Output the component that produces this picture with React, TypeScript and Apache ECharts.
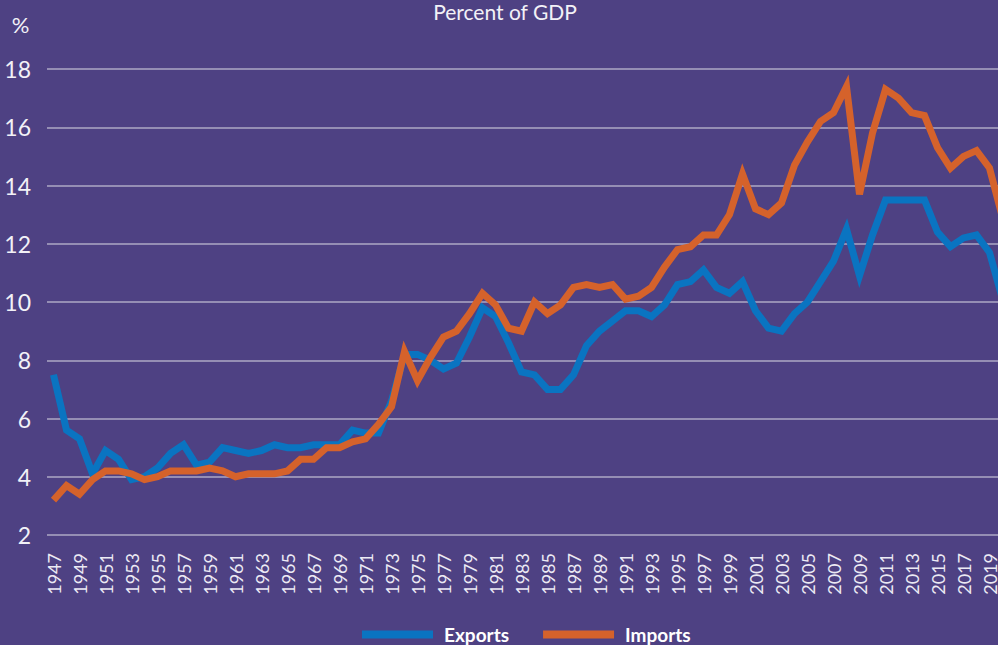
import React, { useEffect, useRef } from "react";
import * as echarts from "echarts";

const years: string[] = [];
for (let y = 1947; y <= 2020; y++) years.push(String(y));

const exportsPct = [
  7.5, 5.6, 5.3, 4.1, 4.9, 4.6, 3.9, 4.0, 4.3, 4.8,
  5.1, 4.4, 4.5, 5.0, 4.9, 4.8, 4.9, 5.1, 5.0, 5.0,
  5.1, 5.1, 5.1, 5.6, 5.5, 5.5, 6.6, 8.2, 8.2, 8.0,
  7.7, 7.9, 8.8, 9.8, 9.5, 8.6, 7.6, 7.5, 7.0, 7.0,
  7.5, 8.5, 9.0, 9.35, 9.7, 9.7, 9.5, 9.9, 10.6, 10.7,
  11.1, 10.5, 10.3, 10.7, 9.7, 9.1, 9.0, 9.6, 10.0, 10.7,
  11.4, 12.5, 10.9, 12.3, 13.5, 13.5, 13.5, 13.5, 12.4, 11.9,
  12.2, 12.3, 11.7, 10.1,
];

const importsPct = [
  3.2, 3.7, 3.4, 3.9, 4.2, 4.2, 4.1, 3.9, 4.0, 4.2,
  4.2, 4.2, 4.3, 4.2, 4.0, 4.1, 4.1, 4.1, 4.2, 4.6,
  4.6, 5.0, 5.0, 5.2, 5.3, 5.8, 6.4, 8.3, 7.3, 8.1,
  8.8, 9.0, 9.6, 10.3, 9.9, 9.1, 9.0, 10.0, 9.6, 9.9,
  10.5, 10.6, 10.5, 10.6, 10.1, 10.2, 10.5, 11.2, 11.8, 11.9,
  12.3, 12.3, 13.0, 14.4, 13.2, 13.0, 13.4, 14.7, 15.5, 16.2,
  16.5, 17.4, 13.7, 15.8, 17.3, 17.0, 16.5, 16.4, 15.3, 14.6,
  15.0, 15.2, 14.6, 12.9,
];

const titleText = "Percent of GDP";
const unitText = "%";
const BG = "#4E4183";
const FONT = "Lato, 'Open Sans', sans-serif";

export default function App() {
  const ref = useRef<HTMLDivElement>(null);
  useEffect(() => {
    if (!ref.current) return;
    const chart = echarts.init(ref.current, undefined, { renderer: "svg" });
    chart.setOption({
      animation: false,
      backgroundColor: BG,
      textStyle: { fontFamily: FONT },
      grid: { left: 47, right: 0, top: 69, bottom: 110, containLabel: false },
      graphic: [
        {
          type: "text",
          x: 505,
          y: 11,
          style: {
            text: titleText,
            fill: "#F2F1F7",
            font: "21px " + FONT,
            textAlign: "center",
            textVerticalAlign: "middle",
          },
        },
        {
          type: "text",
          x: 20.5,
          y: 24,
          style: {
            text: unitText,
            fill: "#F2F1F7",
            font: "22px " + FONT,
            textAlign: "center",
            textVerticalAlign: "middle",
          },
        },
      ],
      legend: {
        left: 357,
        top: 620,
        itemWidth: 71,
        itemHeight: 8,
        itemGap: 34,
        icon: "rect",
        data: ["Exports", "Imports"],
        textStyle: {
          color: "#FFFFFF",
          fontSize: 19,
          fontWeight: "bold",
          fontFamily: FONT,
          padding: [0, 0, 0, 6],
        },
      },
      xAxis: {
        type: "category",
        data: years,
        boundaryGap: true,
        axisLine: { show: false },
        axisTick: { show: false },
        axisLabel: {
          interval: 1,
          rotate: 90,
          margin: 18,
          color: "#ECEAF4",
          fontSize: 18,
          fontFamily: FONT,
        },
        splitLine: { show: false },
      },
      yAxis: {
        type: "value",
        min: 2,
        max: 18,
        interval: 2,
        axisLine: { show: false },
        axisTick: { show: false },
        axisLabel: {
          margin: 16,
          color: "#F2F1F7",
          fontSize: 23,
          fontFamily: FONT,
        },
        splitLine: { lineStyle: { color: "rgba(205,203,220,0.75)", width: 1.5 } },
      },
      series: [
        {
          name: "Exports",
          type: "line",
          data: exportsPct,
          symbol: "none",
          color: "#0A74C1",
          lineStyle: { width: 7, color: "#0A74C1", join: "miter" },
        },
        {
          name: "Imports",
          type: "line",
          data: importsPct,
          symbol: "none",
          color: "#D5622B",
          lineStyle: { width: 7, color: "#D5622B", join: "miter" },
        },
      ],
    });
    return () => chart.dispose();
  }, []);
  return (
    <div
      ref={ref}
      style={{ position: "fixed", left: 0, top: 0, width: 1009, height: 645, background: BG }}
    />
  );
}
